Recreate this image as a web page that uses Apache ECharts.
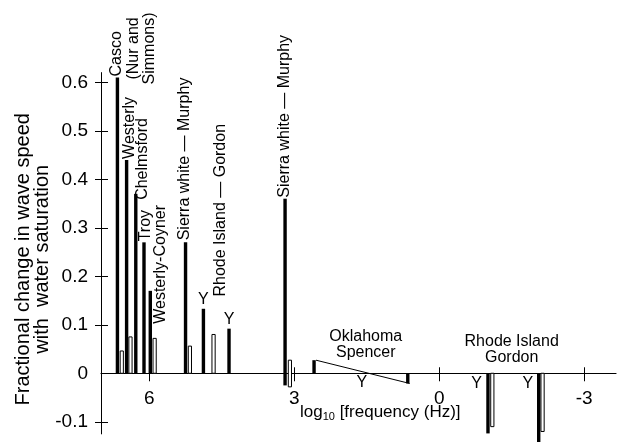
<!DOCTYPE html>
<html><head><meta charset="utf-8">
<script src="https://cdn.jsdelivr.net/npm/echarts@6/dist/echarts.min.js"></script>
<style>html,body{margin:0;padding:0;background:#fff}#c{width:618px;height:442px}</style>
</head><body><div id="c"></div>
<script>
const FONT = '"Liberation Sans", Arial, Helvetica, sans-serif';

// x = log10 frequency (Hz), y = fractional change in wave speed
const solidX      = [6.66, 6.47, 6.28, 6.11, 5.98, 5.25, 4.88, 4.35, 3.19, 2.59, 0.65, -1.01, -2.06];
const solidValues = [0.61, 0.44, 0.37, 0.27, 0.17, 0.27, 0.133, 0.092, 0.36, 0.027, -0.021, -0.124, -0.142];
const solidBase   = [0, 0, 0, 0, 0, 0, 0, 0, -0.025, 0, 0, 0, 0];

const hollowX      = [6.57, 6.39, 5.89, 5.16, 4.67, 3.09, -1.10, -2.14];
const hollowValues = [0.046, 0.075, 0.072, 0.056, 0.08, 0.027, -0.11, -0.12];
const hollowBase   = [0, 0, 0, 0, 0, -0.028, 0, 0];

const wedgeX = [2.55, 0.61];
const wedgeY = [0.027, -0.021];

const xTickValues = [6, 3, 0, -3];
const yTickValues = [-0.1, 0.1, 0.2, 0.3, 0.4, 0.5, 0.6];
const yLabelValues = [-0.1, 0, 0.1, 0.2, 0.3, 0.4, 0.5, 0.6];

const labelTexts = ['Casco', '(Nur and\nSimmons)', 'Westerly', 'Chelmsford', 'Troy', 'Westerly-Coyner',
  'Sierra white \u2014 Murphy', 'Y', 'Rhode Island \u2014 Gordon', 'Y', 'Sierra white \u2014 Murphy',
  'Oklahoma\nSpencer', 'Y', 'Rhode Island\nGordon', 'Y', 'Y'];
// which bar each label belongs to (s = solid, h = hollow), and which end
const labelRef = [['s',0,'end'],['s',0,'end'],['s',1,'end'],['s',2,'end'],['s',3,'end'],['s',4,'end'],
  ['s',5,'end'],['s',6,'end'],['h',4,'end'],['s',7,'end'],['s',8,'end'],
  ['s',9,'end'],['s',9,'base'],['s',11,'base'],['s',11,'base'],['s',12,'base']];
// pixel offsets / layout of the labels
const labelLayout = [
  {dx:-0.5, dy:-1, rot:true, align:'left'},
  {dx:24.5, dy:-29, rot:true, align:'center'},
  {dx:3.3, dy:-1, rot:true, align:'left'},
  {dx:7.3, dy:6, rot:true, align:'left'},
  {dx:1.5, dy:-1, rot:true, align:'left'},
  {dx:10, dy:33, rot:true, align:'left'},
  {dx:-0.5, dy:-2, rot:true, align:'left'},
  {dx:0, dy:-9.3, rot:false, align:'center'},
  {dx:7.3, dy:-38, rot:true, align:'left'},
  {dx:0, dy:-9.3, rot:false, align:'center'},
  {dx:0, dy:-1, rot:true, align:'left'},
  {dx:51.7, dy:-16, rot:false, align:'center'},
  {dx:47.7, dy:9.7, rot:false, align:'center'},
  {dx:23.7, dy:-23.8, rot:false, align:'center'},
  {dx:-11.3, dy:10.7, rot:false, align:'center'},
  {dx:-10.8, dy:10.7, rot:false, align:'center'}
];

// the axis runs from high to low frequency: plot -log10 f on a normal axis
const flip = v => -v;
const fmtX = v => (Math.abs(v) < 1e-9 ? '0' : String(-v));

function barData(xs, bs, vs) { return xs.map((x, i) => [flip(x), bs[i], vs[i]]); }
function barRenderer(w, fill, stroke) {
  return function (params, api) {
    const x = api.value(0), b = api.value(1), v = api.value(2);
    const p0 = api.coord([x, b]), p1 = api.coord([x, v]);
    const top = Math.min(p0[1], p1[1]), h = Math.abs(p0[1] - p1[1]);
    return { type: 'rect', shape: { x: p0[0] - w / 2, y: top, width: w, height: h },
      style: { fill: fill, stroke: stroke || null, lineWidth: stroke ? 1 : 0 } };
  };
}

const labelData = labelRef.map(r => {
  const xs = r[0] === 's' ? solidX : hollowX;
  const vs = r[0] === 's' ? solidValues : hollowValues;
  const bs = r[0] === 's' ? solidBase : hollowBase;
  return [flip(xs[r[1]]), r[2] === 'base' ? bs[r[1]] : vs[r[1]]];
});

const xTicksFlipped = xTickValues.map(flip);
const Y_MIN = -0.125, Y_MAX = 0.62, GRID_TOP = 72.6, GRID_BOTTOM = 8.1, H = 442;
// distance from grid bottom up to the y = 0 line
const zeroOffset = -((H - GRID_BOTTOM - GRID_TOP) * (0 - Y_MIN) / (Y_MAX - Y_MIN));
const axisCommonY = { type: 'value', min: Y_MIN, max: Y_MAX, splitLine: { show: false } };
const axisCommonX = { type: 'value', min: -7.0, max: 3.66, splitLine: { show: false } };

const option = {
  animation: false,
  backgroundColor: '#fff',
  grid: { left: 101, right: 2, top: GRID_TOP, bottom: GRID_BOTTOM, containLabel: false, outerBoundsMode: 'none' },
  title: {
    text: '{a|log}{s|10}{a| [frequency (Hz)]}',
    left: 300, top: 402, padding: 0,
    textStyle: { fontWeight: 'normal', rich: {
      a: { fontSize: 17, fontFamily: FONT, fontWeight: 'normal', color: '#000', lineHeight: 20 },
      s: { fontSize: 11, fontFamily: FONT, fontWeight: 'normal', color: '#000', lineHeight: 10, verticalAlign: 'bottom' }
    } }
  },
  xAxis: [
    Object.assign({}, axisCommonX, {
      position: 'bottom', offset: zeroOffset,
      axisLine: { onZero: false, lineStyle: { color: '#000', width: 1.2 } },
      axisTick: { show: true, inside: false, length: 8, customValues: xTicksFlipped, lineStyle: { color: '#000' } },
      axisLabel: { show: true, customValues: xTicksFlipped, margin: 16, color: '#000', fontSize: 19, fontFamily: FONT,
        formatter: fmtX }
    }),
    Object.assign({}, axisCommonX, {
      position: 'bottom', offset: zeroOffset,
      axisLine: { show: false, onZero: false },
      axisTick: { show: true, inside: true, length: 6, customValues: xTicksFlipped, lineStyle: { color: '#000' } },
      axisLabel: { show: false }
    })
  ],
  yAxis: [
    Object.assign({}, axisCommonY, {
      position: 'left',
      name: 'Fractional change in wave speed\nwith  water saturation',
      nameLocation: 'middle', nameRotate: 90, nameGap: 49, nameMoveOverlap: false,
      nameTextStyle: { fontSize: 20, lineHeight: 19, color: '#000', fontFamily: FONT, padding: [0, 12, 0, 0] },
      axisLine: { onZero: false, lineStyle: { color: '#000', width: 1 } },
      axisTick: { show: true, inside: false, length: 6, customValues: yTickValues, lineStyle: { color: '#000' } },
      axisLabel: { customValues: yLabelValues, margin: 13, color: '#000', fontSize: 19, fontFamily: FONT,
        formatter: v => (v === 0 ? '0' : String(v)) }
    }),
    Object.assign({}, axisCommonY, {
      position: 'left',
      axisLine: { show: false, onZero: false },
      axisTick: { show: true, inside: true, length: 7, customValues: yTickValues, lineStyle: { color: '#000' } },
      axisLabel: { show: false }
    })
  ],
  series: [
    { type: 'custom', name: 'solid', xAxisIndex: 0, yAxisIndex: 0, clip: false, z: 3,
      data: barData(solidX, solidBase, solidValues), encode: { x: 0, y: [1, 2] },
      renderItem: barRenderer(3.4, '#000', null) },
    { type: 'custom', name: 'hollow', xAxisIndex: 0, yAxisIndex: 0, clip: false, z: 4,
      data: barData(hollowX, hollowBase, hollowValues), encode: { x: 0, y: [1, 2] },
      renderItem: barRenderer(3.2, '#fff', '#000') },
    { type: 'line', xAxisIndex: 0, yAxisIndex: 0, symbol: 'none', z: 3,
      data: wedgeX.map((x, i) => [flip(x), wedgeY[i]]),
      lineStyle: { color: '#000', width: 1 } },
    { type: 'custom', name: 'labels', xAxisIndex: 0, yAxisIndex: 0, clip: false, z: 5,
      data: labelData, encode: { x: 0, y: 1 },
      renderItem: function (params, api) {
        const L = labelLayout[params.dataIndex];
        const p = api.coord([api.value(0), api.value(1)]);
        return { type: 'text', x: p[0] + L.dx, y: p[1] + L.dy, rotation: L.rot ? Math.PI / 2 : 0,
          style: { text: labelTexts[params.dataIndex], fill: '#000', fontSize: 16, fontFamily: FONT,
            align: L.align, verticalAlign: 'middle', lineHeight: 16 } };
      } }
  ]
};
echarts.init(document.getElementById('c'), null, { renderer: 'canvas' }).setOption(option);
</script>
</body></html>
